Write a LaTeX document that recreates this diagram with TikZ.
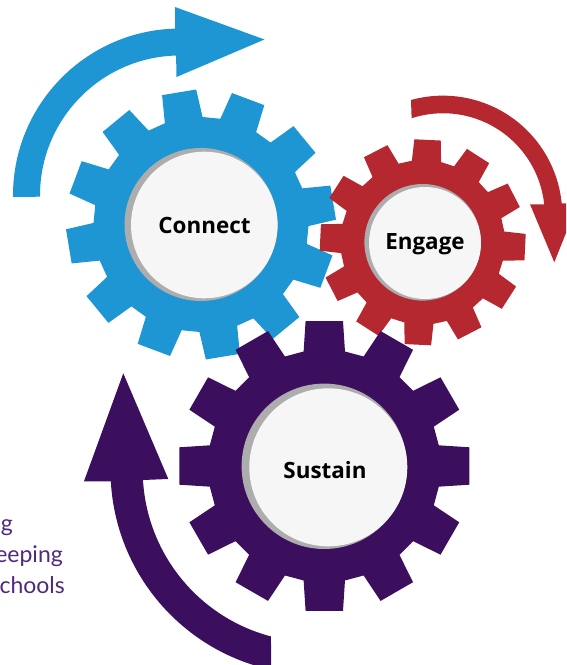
\documentclass[tikz,border=0pt]{standalone}
\usepackage{fontspec}
\setmainfont{Open Sans}
\newfontfamily\notefont{Lato}
\definecolor{cblue}{HTML}{1E96D3}
\definecolor{cred}{HTML}{B5282F}
\definecolor{cpurple}{HTML}{3B0F5E}
\definecolor{cgray}{HTML}{ADADAD}
\definecolor{cface}{HTML}{F6F6F6}
\definecolor{cnote}{HTML}{4F2A7E}
\tikzset{
  gearlabel/.style={font=\bfseries\fontsize{#1}{#1}\selectfont,text=black,inner sep=0pt,anchor=base},
  notetext/.style={font=\notefont\fontsize{23}{23}\selectfont,text=cnote,inner sep=0pt,anchor=base east}
}
\newcommand{\gearshape}[5]{% cx, cy, scale, rotation, colour
  \begin{scope}[shift={(#1,#2)},rotate=#4,scale=#3]
    \fill[#5] (-10.24:116.35)
      \foreach \a in {0,30,...,330}{
        -- ({\a-10.24}:116.35) -- ({\a-7.35}:146.2) -- ({\a+7.35}:146.2) -- ({\a+10.24}:116.35)
      } -- cycle;
  \end{scope}
}
\begin{document}
\begin{tikzpicture}[x=1pt,y=1pt]
\useasboundingbox (0,0) rectangle (566,665);
\clip (0,0) rectangle (566,665);
% arrows
\fill[cblue] (13,468) arc[start angle=180.5,end angle=91.7,radius=167] -- (175,658) -- (264.5,625.5) -- (176.5,588) -- (176.1,609.46) arc[start angle=91.6,end angle=180.5,radius=140] -- cycle;
\fill[cred] (411,565) arc[start angle=105.5,end angle=5.6,radius=119.4] -- (578,462) -- (554.3,402.7) -- (530,460.7) -- (544.2,460.5) arc[start angle=5.9,end angle=108,radius=101.7] -- cycle;
\fill[cpurple] (143,185) arc[start angle=183.3,end angle=255.25,radius=172] -- (271.3,-4.8) arc[start angle=257.66,end angle=183.2,radius=204.5] -- (84,183.7) -- (123.3,291.7) -- (168.3,186) -- cycle;
% gears
\gearshape{201}{440.5}{0.924}{9.4}{cblue}
\fill[cgray] (201,440.5) circle[radius=76.5];
\fill[cface] (204.3,440) circle[radius=73.3];
\gearshape{422.7}{422.7}{0.707}{-2.7}{cred}
\fill[cgray] (422.7,422.7) circle[radius=58.3];
\fill[cface] (425,422) circle[radius=56];
\gearshape{324.3}{199}{1}{0}{cpurple}
\fill[cgray] (324.3,198.7) circle[radius=82.7];
\fill[cface] (328.3,197.7) circle[radius=79];
% labels
\node[gearlabel=22.4] (connect) at (204.5,431) {Connect};
\node[gearlabel=22.4] (engage) at (425,415) {Engage};
\node[gearlabel=22.4] (sustain) at (325,186.7) {Sustain};
\node[notetext] (noteA) at (13,133.5) {g};
\node[notetext] (noteB) at (63,102.5) {eeping};
\node[notetext] (noteC) at (65,71) {chools};
\end{tikzpicture}
\end{document}
